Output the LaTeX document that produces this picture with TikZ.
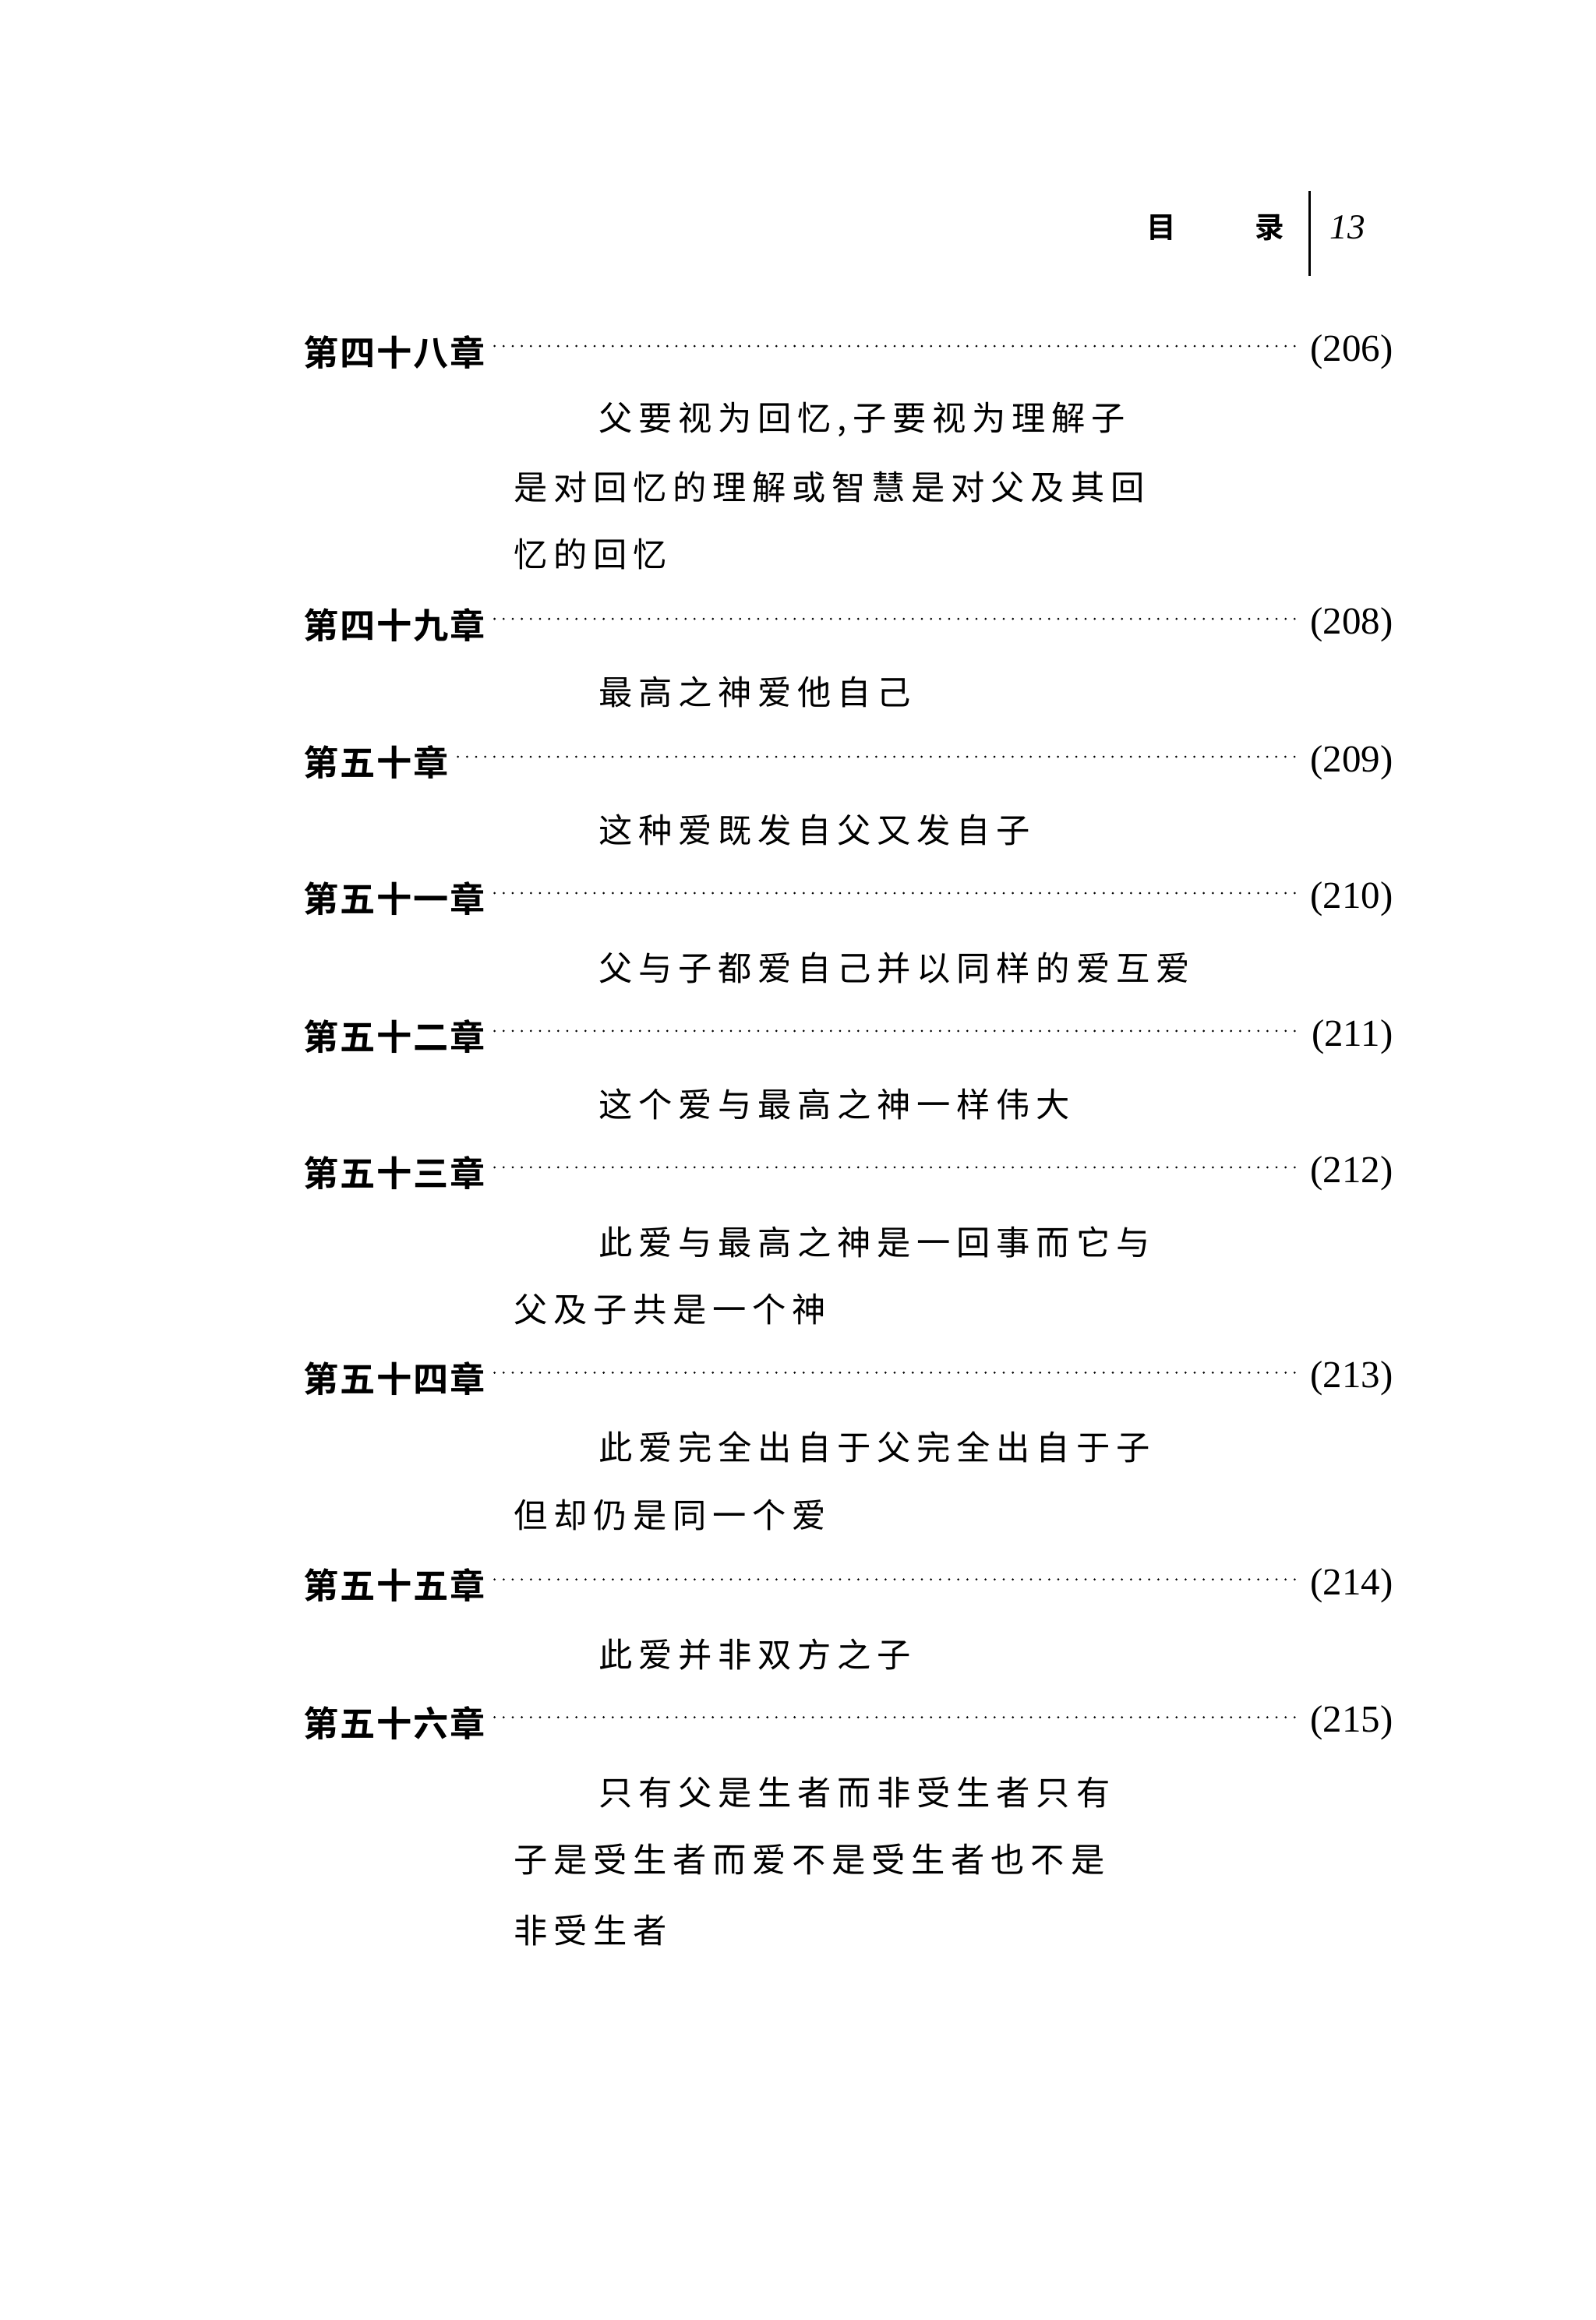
\documentclass[tikz,border=0pt]{standalone}
\usepackage{fontspec}
\setmainfont{Liberation Serif}
\newfontfamily\cjk[LetterSpace=18]{Noto Sans CJK SC}
\newfontfamily\cjkb[LetterSpace=4]{Noto Sans CJK SC Bold}
\begin{document}
\begin{tikzpicture}[x=1pt,y=-1pt,
  chap/.style={anchor=west,inner sep=0pt,font=\cjkb\fontsize{24}{24}\selectfont},
  sub/.style={anchor=west,inner sep=0pt,font=\cjk\fontsize{23}{23}\selectfont},
  pg/.style={anchor=east,inner sep=0pt,font=\fontsize{26}{26}\selectfont},
  dots/.style={line width=1.6pt,dash pattern=on 0pt off 6.2pt,line cap=round}]
\useasboundingbox (0,0) rectangle (1088,1582);
\node[anchor=center,inner sep=0pt,font=\cjkb\fontsize{20}{20}\selectfont] (h1) at (792,155) {目};
\node[anchor=center,inner sep=0pt,font=\cjkb\fontsize{20}{20}\selectfont] (h2) at (866,155) {录};
\coordinate (l1) at (893,130); \coordinate (l2) at (893,188);
\draw[line width=1.2pt] (l1) -- (l2);
\node[anchor=center,inner sep=0pt,font=\itshape\fontsize{24}{24}\selectfont] (hn) at (919,155) {13};
\foreach \n/\t/\p/\y in {a/第四十八章/206/240, b/第四十九章/208/426, c/第五十章/209/520, d/第五十一章/210/613, e/第五十二章/211/707, f/第五十三章/212/800, g/第五十四章/213/940, h/第五十五章/214/1081, i/第五十六章/215/1175}{
  \node[chap] (c\n) at (207,\y) {\t};
  \node[pg] (p\n) at (950,\y) {(\p)};
  \draw[dots] ([xshift=6pt,yshift=4pt]c\n.east) -- ([xshift=-10pt,yshift=4pt]p\n.west);
}
\node[sub] (s1) at (408,286) {父要视为回忆,子要视为理解子};
\node[sub] (s2) at (350,332) {是对回忆的理解或智慧是对父及其回};
\node[sub] (s3) at (350,378) {忆的回忆};
\node[sub] (s4) at (408,472) {最高之神爱他自己};
\node[sub] (s5) at (408,566) {这种爱既发自父又发自子};
\node[sub] (s6) at (408,660) {父与子都爱自己并以同样的爱互爱};
\node[sub] (s7) at (408,753) {这个爱与最高之神一样伟大};
\node[sub] (s8) at (408,847) {此爱与最高之神是一回事而它与};
\node[sub] (s9) at (350,893) {父及子共是一个神};
\node[sub] (s10) at (408,987) {此爱完全出自于父完全出自于子};
\node[sub] (s11) at (350,1033) {但却仍是同一个爱};
\node[sub] (s12) at (408,1128) {此爱并非双方之子};
\node[sub] (s13) at (408,1222) {只有父是生者而非受生者只有};
\node[sub] (s14) at (350,1268) {子是受生者而爱不是受生者也不是};
\node[sub] (s15) at (350,1316) {非受生者};
\end{tikzpicture}
\end{document}
